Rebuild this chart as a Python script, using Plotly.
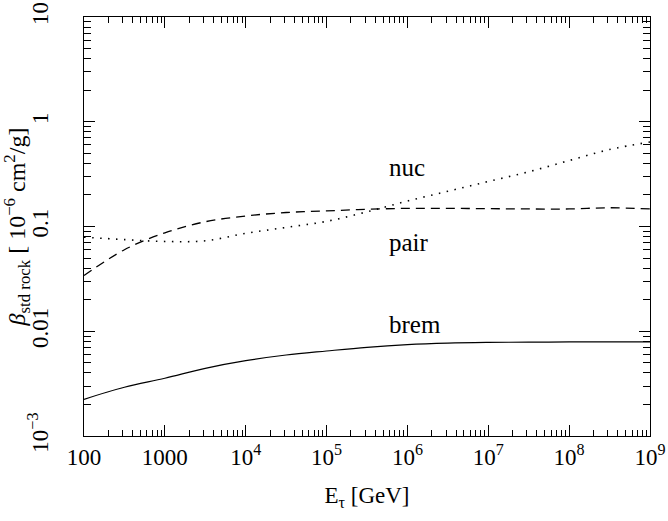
import plotly.graph_objects as go

# Energy grid (GeV), half-decade steps from 10^2 to 10^9
energy = [1e2, 3.16e2, 1e3, 3.16e3, 1e4, 3.16e4, 1e5, 3.16e5, 1e6,
          3.16e6, 1e7, 3.16e7, 1e8, 3.16e8, 1e9]

# Energy-loss coefficients in standard rock [10^-6 cm^2/g]
beta_brem = [0.00224, 0.00292, 0.00356, 0.00443, 0.00524, 0.00593, 0.00648,
             0.00703, 0.00745, 0.00770, 0.00782, 0.00787, 0.0079, 0.0079, 0.0079]
beta_pair = [0.034, 0.060, 0.087, 0.111, 0.126, 0.136, 0.141, 0.146, 0.149,
             0.149, 0.148, 0.147, 0.147, 0.151, 0.147]
beta_nuc = [0.079, 0.075, 0.072, 0.073, 0.086, 0.098, 0.112, 0.138, 0.175,
            0.217, 0.269, 0.333, 0.426, 0.543, 0.64]

x_tickvals = [1e2, 1e3, 1e4, 1e5, 1e6, 1e7, 1e8, 1e9]
x_ticktext = ["100", "1000", "10<sup>4</sup>", "10<sup>5</sup>", "10<sup>6</sup>",
              "10<sup>7</sup>", "10<sup>8</sup>", "10<sup>9</sup>"]
y_tickvals = [1e-3, 1e-2, 1e-1, 1, 10]
y_ticktext = ["10<sup>−3</sup>", "0.01", "0.1", "1", "10"]

# Curve labels: (text, log10 E of left edge, log10 beta of centre)
curve_labels = [("nuc", 5.75, -0.44), ("pair", 5.75, -1.15), ("brem", 5.75, -1.94)]

FONT = "Liberation Serif"


def minor_vals(lo, hi):
    return [m * 10 ** d for d in range(lo, hi) for m in range(2, 10)]


fig = go.Figure()
fig.add_trace(go.Scatter(x=energy, y=beta_brem, mode="lines", line_shape="spline",
                         line=dict(color="black", width=1.2)))
fig.add_trace(go.Scatter(x=energy, y=beta_pair, mode="lines", line_shape="spline",
                         line=dict(color="black", width=1.3, dash="9px,6px")))
fig.add_trace(go.Scatter(x=energy, y=beta_nuc, mode="lines", line_shape="spline",
                         line=dict(color="black", width=1.6, dash="1.5px,6.5px")))

for txt, xv, yv in curve_labels:
    fig.add_annotation(x=xv, y=yv, text=txt, showarrow=False, xref="x", yref="y",
                       xanchor="left", yanchor="middle",
                       font=dict(family=FONT, size=25, color="black"))

axis_common = dict(type="log", showgrid=False, zeroline=False, showline=True,
                   linecolor="black", linewidth=1.2, mirror="allticks",
                   ticks="inside", ticklen=11, tickwidth=1, tickcolor="black",
                   ticklabeloverflow="allow",
                   tickfont=dict(family=FONT, size=23, color="black"))

fig.update_xaxes(range=[2, 9], tickvals=x_tickvals, ticktext=x_ticktext,
                 minor=dict(ticks="inside", ticklen=6, tickwidth=1, tickcolor="black",
                            tickmode="array", tickvals=minor_vals(2, 9), showgrid=False),
                 title=dict(text="E<sub>τ</sub> [GeV]", font=dict(family=FONT, size=23, color="black"),
                            standoff=18),
                 **axis_common)
fig.update_yaxes(range=[-3, 1], tickvals=y_tickvals, ticktext=y_ticktext, tickangle=-90,
                 ticklabelstandoff=26,
                 minor=dict(ticks="inside", ticklen=7, tickwidth=1, tickcolor="black",
                            tickmode="array", tickvals=minor_vals(-3, 1), showgrid=False),
                 title=dict(text="<i>β</i><sub>std rock</sub> [ 10<sup>−6</sup> cm<sup>2</sup>/g]",
                            font=dict(family=FONT, size=24, color="black"), standoff=4),
                 **axis_common)

fig.update_layout(width=668, height=521, showlegend=False,
                  paper_bgcolor="white", plot_bgcolor="white",
                  margin=dict(l=84, r=2, t=17, b=85))

fig.write_html("out.html")
